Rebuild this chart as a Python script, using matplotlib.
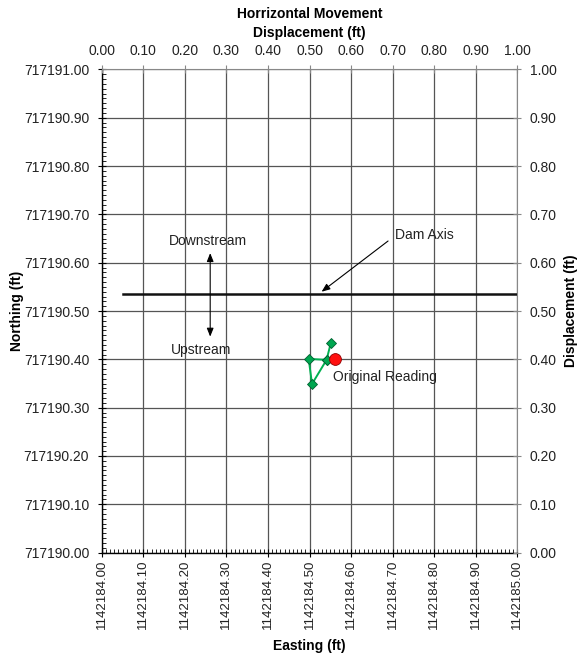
import matplotlib
matplotlib.use("Agg")
import matplotlib.pyplot as plt
from matplotlib.ticker import MultipleLocator, FixedLocator, StrMethodFormatter

plt.rcParams['font.family'] = ['Liberation Sans', 'DejaVu Sans']

# Data
easting_base = 1142184.00
northing_base = 717190.00
reading_easting = [1142184.551, 1142184.541, 1142184.498, 1142184.506, 1142184.541]
reading_northing = [717190.433, 717190.399, 717190.401, 717190.349, 717190.399]
original_easting = [1142184.561]
original_northing = [717190.401]
dam_axis_easting = [1142184.05, 1142185.00]
dam_axis_northing = [717190.535, 717190.535]

easting_ticks = [easting_base + i * 0.1 for i in range(11)]
northing_ticks = [northing_base + i * 0.1 for i in range(11)]
disp_ticks = [i * 0.1 for i in range(11)]

fig = plt.figure(figsize=(5.78, 6.60), dpi=100)
ax = fig.add_axes([0.176, 0.1627, 0.719, 0.732])

ax.set_xlim(easting_base, easting_base + 1.0)
ax.set_ylim(northing_base, northing_base + 1.0)

gridc = '#555555'
ax.xaxis.set_major_locator(FixedLocator(easting_ticks))
ax.yaxis.set_major_locator(FixedLocator(northing_ticks))
ax.xaxis.set_minor_locator(MultipleLocator(0.01))
ax.yaxis.set_minor_locator(MultipleLocator(0.01))
ax.xaxis.set_major_formatter(StrMethodFormatter('{x:.2f}'))
ax.yaxis.set_major_formatter(StrMethodFormatter('{x:.2f}'))
ax.grid(True, which='major', color=gridc, linewidth=0.9)
ax.set_axisbelow(True)

ax.tick_params(axis='both', which='major', direction='inout', length=6, width=0.8,
               labelsize=10, colors='black', labelcolor='#222222')
ax.tick_params(axis='both', which='minor', direction='in', length=3, width=0.6, color='black')
ax.tick_params(axis='x', which='major', labelrotation=90, pad=2, labelsize=9.5)
ax.tick_params(axis='y', which='major', pad=6)
for lab in ax.get_xticklabels():
    lab.set_va('top')

ax.spines['left'].set_color('black')
ax.spines['bottom'].set_color('black')
ax.spines['left'].set_linewidth(1.0)
ax.spines['bottom'].set_linewidth(1.0)
ax.spines['top'].set_color('#888888')
ax.spines['right'].set_color('#888888')

ax.set_xlabel('Easting (ft)', fontsize=10, fontweight='bold', labelpad=7)
ax.set_ylabel('Northing (ft)', fontsize=10, fontweight='bold', labelpad=0)

# Dam axis line
ax.plot(dam_axis_easting, dam_axis_northing, color='#111111', linewidth=1.8, zorder=3)

# Readings
ax.plot(reading_easting, reading_northing, color='#00b050', linewidth=1.4,
        marker='D', markersize=5, markerfacecolor='#00a650', markeredgecolor='#006030',
        markeredgewidth=0.6, zorder=4)
ax.plot(original_easting, original_northing, linestyle='none', marker='o', markersize=8.5,
        markerfacecolor='#ff1010', markeredgecolor='#900000', markeredgewidth=0.6, zorder=5)

# Annotations
ax.text(easting_base + 0.557, northing_base + 0.363, 'Original Reading', fontsize=10,
        color='#222222', va='center', ha='left')
ax.text(easting_base + 0.706, northing_base + 0.658, 'Dam Axis', fontsize=10,
        color='#222222', va='center', ha='left')
ax.text(easting_base + 0.162, northing_base + 0.646, 'Downstream', fontsize=10,
        color='#222222', va='center', ha='left')
ax.text(easting_base + 0.166, northing_base + 0.419, 'Upstream', fontsize=10,
        color='#222222', va='center', ha='left')

ax.annotate('', xy=(easting_base + 0.529, northing_base + 0.540),
            xytext=(easting_base + 0.689, northing_base + 0.645),
            arrowprops=dict(arrowstyle='-|>,head_length=0.5,head_width=0.2', color='black',
                            lw=0.8, shrinkA=0, shrinkB=0))
ax.annotate('', xy=(easting_base + 0.261, northing_base + 0.620),
            xytext=(easting_base + 0.261, northing_base + 0.447),
            arrowprops=dict(arrowstyle='<|-|>,head_length=0.5,head_width=0.2', color='black',
                            lw=0.8, shrinkA=0, shrinkB=0))

# Secondary axes (displacement)
axr = ax.twinx()
axr.set_ylim(0, 1)
axr.yaxis.set_major_locator(FixedLocator(disp_ticks))
axr.yaxis.set_major_formatter(StrMethodFormatter('{x:.2f}'))
axr.tick_params(axis='y', which='major', direction='inout', length=6, width=0.8,
                color='#888888', labelsize=10, labelcolor='#222222', pad=6)
axr.set_ylabel('Displacement (ft)', fontsize=10, fontweight='bold', labelpad=5)
for s in axr.spines.values():
    s.set_visible(False)

axt = ax.twiny()
axt.set_xlim(0, 1)
axt.xaxis.set_major_locator(FixedLocator(disp_ticks))
axt.xaxis.set_major_formatter(StrMethodFormatter('{x:.2f}'))
axt.tick_params(axis='x', which='major', direction='inout', length=6, width=0.8,
                color='#888888', labelsize=10, labelcolor='#222222', pad=5)
axt.set_xlabel('Horrizontal Movement\nDisplacement (ft)', fontsize=10, fontweight='bold',
               labelpad=5, linespacing=1.45)
for s in axt.spines.values():
    s.set_visible(False)

fig.savefig('out.png', dpi=100)
